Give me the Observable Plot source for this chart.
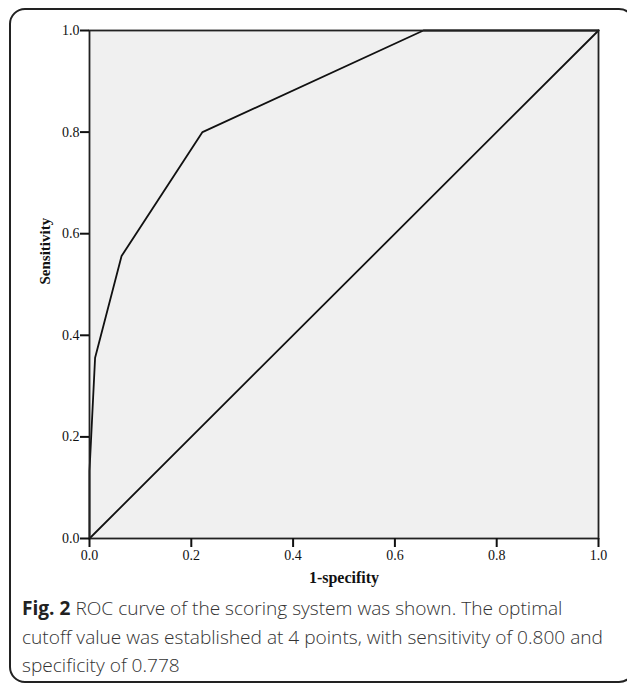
<!DOCTYPE html>
<html>
<head>
<meta charset="utf-8">
<script src="https://cdn.jsdelivr.net/npm/d3@7"></script>
<script src="https://cdn.jsdelivr.net/npm/@observablehq/plot@0.6"></script>
<style>
  html, body { margin: 0; padding: 0; background: #fff; overflow: hidden; width: 627px; height: 687px; }
  #wrap { position: relative; width: 627px; height: 687px; overflow: hidden; }
  #border { position: absolute; left: 9px; top: 8px; width: 626px; height: 675px; border: 2px solid #222; border-radius: 16px; box-sizing: border-box; }
  #chart { position: absolute; left: 0; top: 0; }
  #caption { position: absolute; left: 22px; top: 594px; font-family: "Open Sans", sans-serif; font-weight: 300; font-size: 19.1px; line-height: 28.5px; color: #333; white-space: nowrap; }
  #caption b { font-weight: bold; color: #222; }
</style>
</head>
<body>
<div id="wrap">
  <div id="border"></div>
  <div id="chart"></div>
  <div id="caption"><b>Fig. 2</b> ROC curve of the scoring system was shown. The optimal<br>cutoff value was established at 4 points, with sensitivity of 0.800 and<br>specificity of 0.778</div>
</div>
<script>
const fpr = [0, 0, 0.011, 0.063, 0.222, 0.656, 1];
const tpr = [0, 0.133, 0.356, 0.556, 0.8, 1, 1];
const refX = [0, 1];
const refY = [0, 1];
const ticks = [0, 0.2, 0.4, 0.6, 0.8, 1.0];
const xLabel = "1-specifity";
const yLabel = "Sensitivity";

const roc = fpr.map((x, i) => ({x, y: tpr[i]}));
const ref = refX.map((x, i) => ({x, y: refY[i]}));
const fmt = d3.format(".1f");

const chart = Plot.plot({
  width: 627,
  height: 594,
  marginLeft: 89,
  marginRight: 29,
  marginTop: 30,
  marginBottom: 56,
  style: { fontFamily: "'Liberation Serif', 'Times New Roman', serif", fontSize: "14px", color: "#111", background: "transparent" },
  x: { domain: [0, 1] },
  y: { domain: [0, 1] },
  marks: [
    Plot.frame({ fill: "#f0f0f0", stroke: "none" }),
    Plot.line(ref, { x: "x", y: "y", stroke: "#111", strokeWidth: 1.8 }),
    Plot.line(roc, { x: "x", y: "y", stroke: "#111", strokeWidth: 1.8 }),
    Plot.frame({ stroke: "#222", strokeWidth: 1.8 }),
    Plot.axisX({ ticks: ticks, tickFormat: fmt, tickSize: 9, tickPadding: 3, strokeWidth: 2, fontSize: 14, label: null }),
    Plot.axisY({ ticks: ticks, tickFormat: fmt, tickSize: 9, tickPadding: 1, strokeWidth: 2, fontSize: 14, label: null }),
    Plot.text([xLabel], { frameAnchor: "bottom", dy: 44, fontSize: 16, fontWeight: "bold", fill: "#111" }),
    Plot.text([yLabel], { frameAnchor: "left", dx: -44, rotate: -90, fontSize: 15, fontWeight: "bold", fill: "#111" })
  ]
});
document.getElementById("chart").appendChild(chart);
</script>
</body>
</html>
